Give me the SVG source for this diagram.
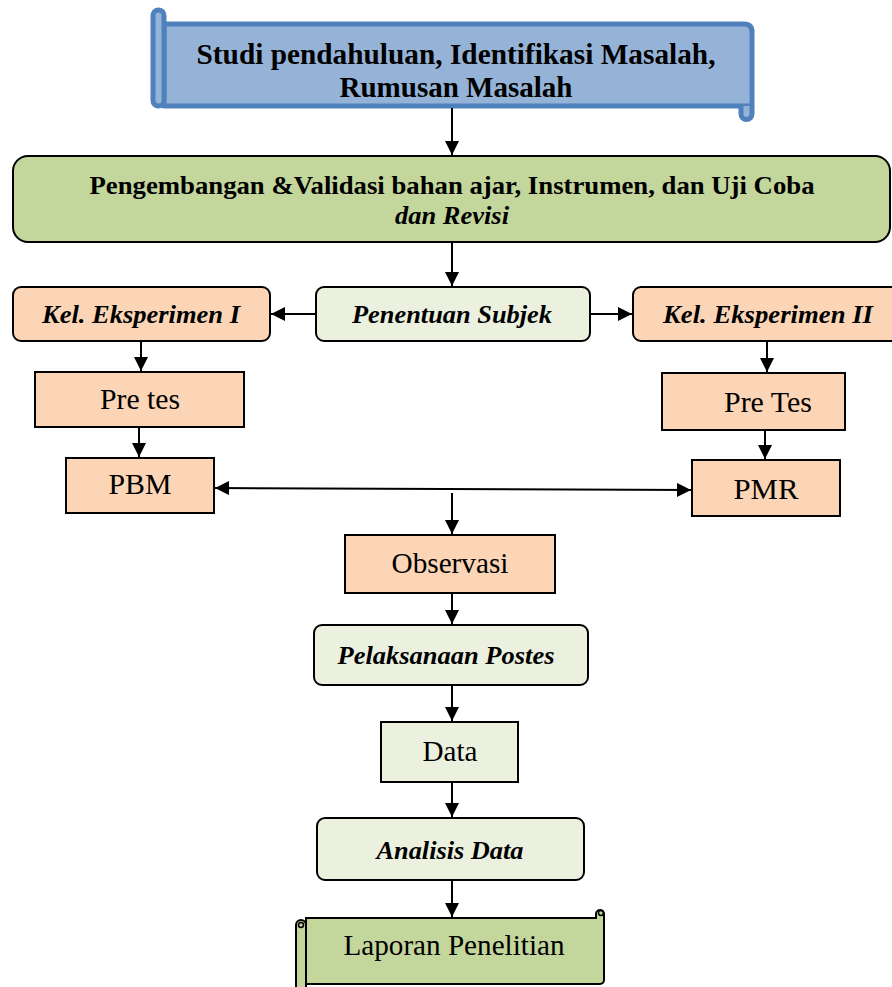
<svg xmlns="http://www.w3.org/2000/svg" width="892" height="987" viewBox="0 0 892 987">
<defs>
<style>
.t{font-family:"Liberation Serif","Times New Roman",serif;fill:#000;text-anchor:middle}
.b{font-weight:bold}
.bi{font-weight:bold;font-style:italic;font-size:26px}
.r{font-size:29px}
.box{stroke:#000;stroke-width:2}
.peach{fill:#fbd5b5}
.pale{fill:#ebf1de}
.green{fill:#c3d69b}
.ln{stroke:#000;stroke-width:2;fill:none}
</style>
<marker id="ah" viewBox="0 0 10 10" refX="10" refY="5" markerWidth="14" markerHeight="14" markerUnits="userSpaceOnUse" orient="auto-start-reverse">
<path d="M0,0 L10,5 L0,10 z" fill="#000"/>
</marker>
</defs>

<g id="n-studi">
<path d="M164,24 H744 Q752,24 752,32 V106 H164 Z" fill="#95b3d7" stroke="#4f81bd" stroke-width="5" stroke-linejoin="round"/>
<rect x="153" y="10" width="11" height="96" rx="5.5" fill="#95b3d7" stroke="#4f81bd" stroke-width="5"/>
<path d="M741,106 V114 A5.5,5.5 0 0 0 752,114 V106" fill="#95b3d7" stroke="#4f81bd" stroke-width="5"/>
<text class="t b" x="456" y="64" font-size="29" textLength="519" lengthAdjust="spacingAndGlyphs">Studi pendahuluan, Identifikasi Masalah,</text>
<text class="t b" x="456" y="97" font-size="29" textLength="233" lengthAdjust="spacingAndGlyphs">Rumusan Masalah</text>
</g>

<g id="n-pengembangan">
<rect class="box green" x="13" y="156" width="877" height="86" rx="15"/>
<text class="t b" x="452" y="194" font-size="25" textLength="725" lengthAdjust="spacingAndGlyphs">Pengembangan &amp;Validasi bahan ajar, Instrumen, dan Uji Coba</text>
<text class="t bi" x="452" y="224" style="font-size:25px" textLength="114" lengthAdjust="spacingAndGlyphs">dan Revisi</text>
</g>

<g id="n-kel1">
<rect class="box peach" x="13" y="287" width="257" height="54" rx="8"/>
<text class="t bi" x="141" y="323" textLength="198" lengthAdjust="spacingAndGlyphs">Kel. Eksperimen I</text>
</g>

<g id="n-penentuan">
<rect class="box pale" x="316" y="287" width="274" height="54" rx="8"/>
<text class="t bi" x="452" y="323" textLength="200" lengthAdjust="spacingAndGlyphs">Penentuan Subjek</text>
</g>

<g id="n-kel2">
<rect class="box peach" x="633" y="287" width="270" height="54" rx="8"/>
<text class="t bi" x="768" y="323" textLength="210" lengthAdjust="spacingAndGlyphs">Kel. Eksperimen II</text>
</g>

<g id="n-pretes1">
<rect class="box peach" x="35" y="372" width="209" height="55"/>
<text class="t r" x="140" y="409" textLength="80" lengthAdjust="spacingAndGlyphs">Pre tes</text>
</g>

<g id="n-pbm">
<rect class="box peach" x="66" y="458" width="148" height="55"/>
<text class="t r" x="140" y="494" textLength="63" lengthAdjust="spacingAndGlyphs">PBM</text>
</g>

<g id="n-pretes2">
<rect class="box peach" x="662" y="373" width="183" height="57"/>
<text class="t r" x="768" y="412" textLength="88" lengthAdjust="spacingAndGlyphs">Pre Tes</text>
</g>

<g id="n-pmr">
<rect class="box peach" x="692" y="460" width="148" height="56"/>
<text class="t r" x="766" y="499" textLength="65" lengthAdjust="spacingAndGlyphs">PMR</text>
</g>

<g id="n-observasi">
<rect class="box peach" x="345" y="535" width="210" height="58"/>
<text class="t r" x="450" y="573" textLength="117" lengthAdjust="spacingAndGlyphs">Observasi</text>
</g>

<g id="n-postes">
<rect class="box pale" x="314" y="625" width="274" height="60" rx="8"/>
<text class="t bi" x="446" y="664" textLength="217" lengthAdjust="spacingAndGlyphs">Pelaksanaan Postes</text>
</g>

<g id="n-data">
<rect class="box pale" x="381" y="722" width="137" height="60"/>
<text class="t r" x="450" y="761" textLength="55" lengthAdjust="spacingAndGlyphs">Data</text>
</g>

<g id="n-analisis">
<rect class="box pale" x="317" y="818" width="267" height="62" rx="8"/>
<text class="t bi" x="450" y="859" textLength="147" lengthAdjust="spacingAndGlyphs">Analisis Data</text>
</g>

<g id="n-laporan">
<path d="M306,918 H596 V914 A4,4 0 0 1 604,914 V980 A4,4 0 0 1 600,984 H306 Z" class="box green"/>
<path d="M296,987 V925 A5,5 0 0 1 306,925 V987" class="box green"/>
<circle cx="301" cy="925" r="2.5" fill="none" stroke="#000" stroke-width="1.5"/>
<circle cx="601" cy="913" r="2.5" fill="none" stroke="#000" stroke-width="1.5"/>
<text class="t" x="454" y="955" font-size="29" textLength="221" lengthAdjust="spacingAndGlyphs">Laporan Penelitian</text>
</g>

<g id="connectors">
<line class="ln" x1="452" y1="108" x2="452" y2="155" marker-end="url(#ah)"/>
<line class="ln" x1="452" y1="242" x2="452" y2="286" marker-end="url(#ah)"/>
<line class="ln" x1="316" y1="314" x2="271" y2="314" marker-end="url(#ah)"/>
<line class="ln" x1="590" y1="314" x2="632" y2="314" marker-end="url(#ah)"/>
<line class="ln" x1="141" y1="341" x2="141" y2="371" marker-end="url(#ah)"/>
<line class="ln" x1="767" y1="341" x2="767" y2="372" marker-end="url(#ah)"/>
<line class="ln" x1="139" y1="427" x2="139" y2="457" marker-end="url(#ah)"/>
<line class="ln" x1="765" y1="430" x2="765" y2="459" marker-end="url(#ah)"/>
<line class="ln" x1="215" y1="488" x2="691" y2="490" marker-start="url(#ah)" marker-end="url(#ah)"/>
<line class="ln" x1="452" y1="493" x2="452" y2="534" marker-end="url(#ah)"/>
<line class="ln" x1="452" y1="593" x2="452" y2="624" marker-end="url(#ah)"/>
<line class="ln" x1="452" y1="685" x2="452" y2="721" marker-end="url(#ah)"/>
<line class="ln" x1="452" y1="782" x2="452" y2="817" marker-end="url(#ah)"/>
<line class="ln" x1="452" y1="880" x2="452" y2="917" marker-end="url(#ah)"/>
</g>
</svg>
